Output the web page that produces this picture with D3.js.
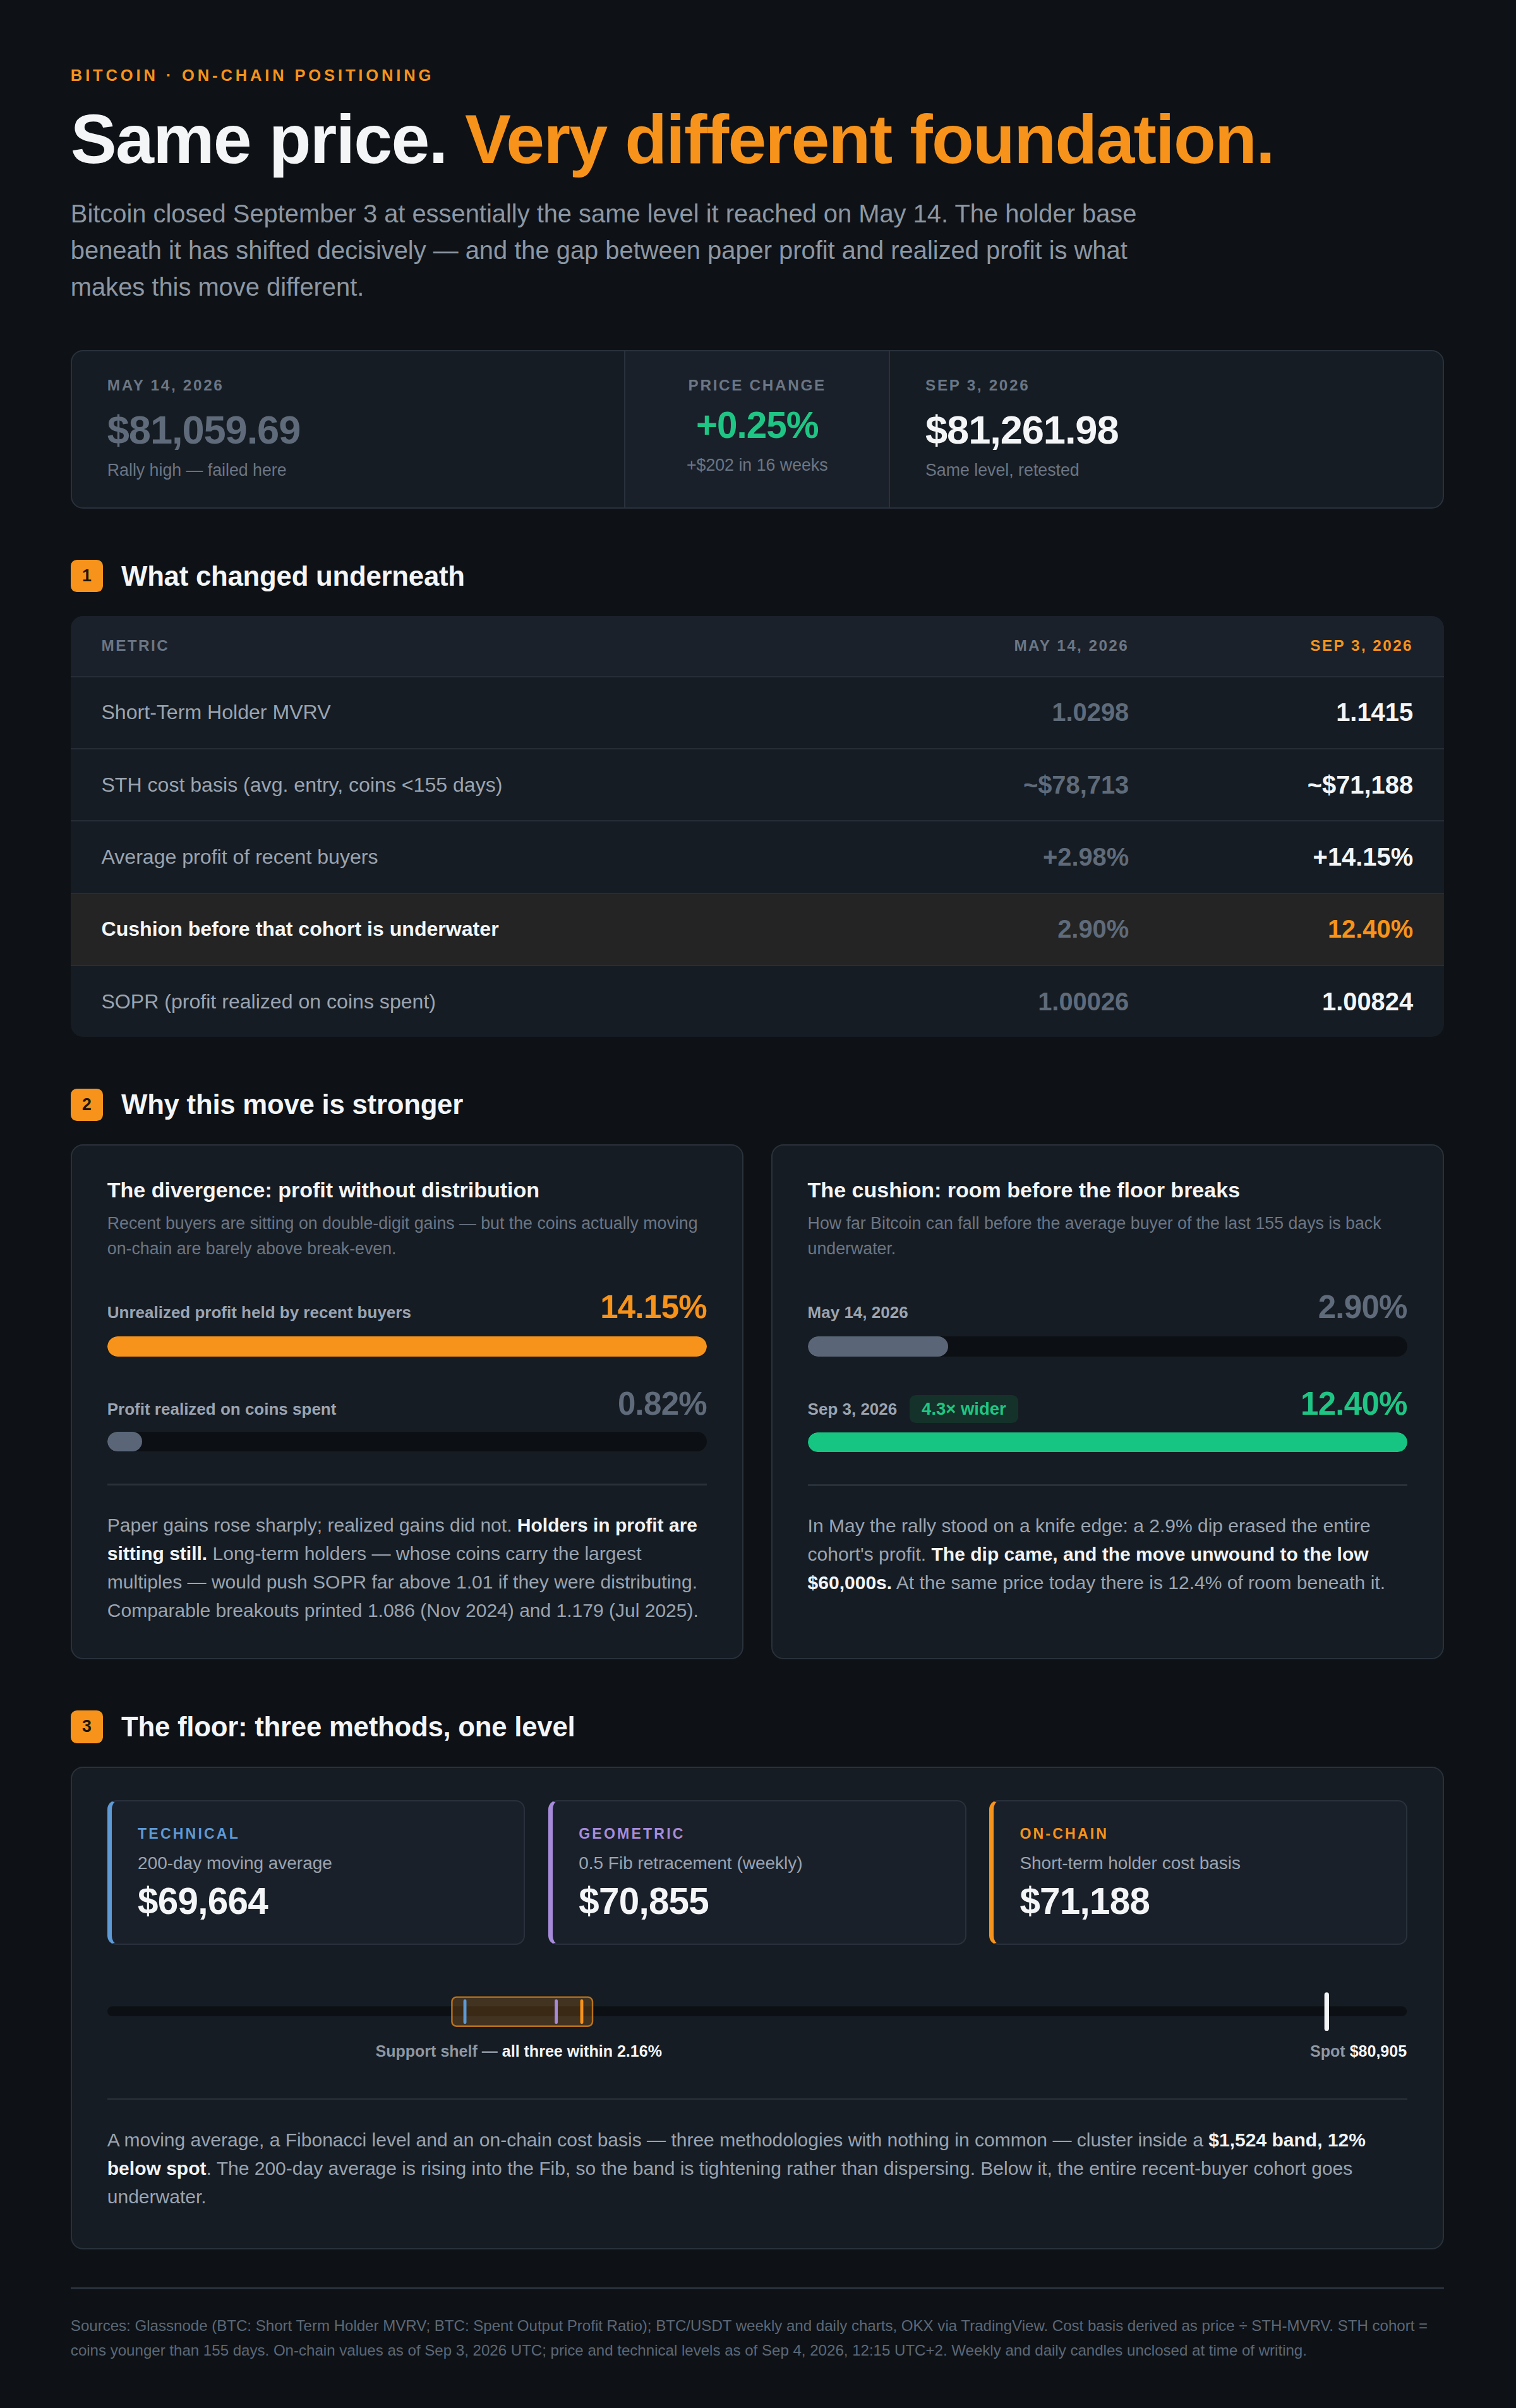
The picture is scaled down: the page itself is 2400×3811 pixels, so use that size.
<!DOCTYPE html>
<html>
<head>
<meta charset="utf-8">
<script src="https://cdn.jsdelivr.net/npm/d3@7"></script>
<style>
html, body { margin: 0; background: #0e1217; }
body {
    zoom: 2.43161;
    width: 987px;
    font-family: "Liberation Sans", Arial, Helvetica, sans-serif;
    color: #f0f3f6;
}
#page { padding: 42px 47px 30px 46px; }
b { color: #f0f3f6; }

.kicker { font-size: 10.5px; line-height: 12px; font-weight: 700; letter-spacing: 2px; color: #f7931a; margin-top: 1px; }
h1 { margin: 11px 0 0; font-size: 45px; line-height: 49.5px; font-weight: 700; letter-spacing: -0.7px; color: #f3f5f7; }
h1 span { color: #f7931a; }
.lede { margin-top: 11.5px; max-width: 722px; font-size: 16.4px; line-height: 24px; color: #8d97a3; }

.stats { display: grid; grid-template-columns: 1fr 173px 1fr; margin-top: 29px; height: 103px; box-sizing: border-box;
    background: #161c23; border: 1px solid #29313b; border-radius: 8px; overflow: hidden; }
.stat { padding: 16px 23px 0; }
.stat.mid { background: #1a2029; border-left: 1px solid #29313b; border-right: 1px solid #29313b; text-align: center; padding: 16px 0 0; }
.stat .lab { font-size: 10px; line-height: 12px; font-weight: 700; letter-spacing: 1.1px; color: #6b7685; }
.stat .val { margin-top: 8px; font-size: 26px; line-height: 30px; font-weight: 700; letter-spacing: -0.45px; }
.stat.mid .val { margin-top: 6px; font-size: 24px; line-height: 28px; letter-spacing: -0.4px; }
.stat .cap { margin-top: 4px; font-size: 11px; line-height: 14px; color: #6b7685; }
.stat.mid .cap { margin-top: 5px; }

.sec { display: flex; align-items: center; gap: 12px; margin-top: 33px; height: 22px; }
.badge { width: 21px; height: 21px; border-radius: 4px; background: #f7931a; color: #1b1408;
    font-size: 11px; font-weight: 700; display: flex; align-items: center; justify-content: center; }
.sec h2 { margin: 0; font-size: 18px; font-weight: 700; letter-spacing: -0.1px; color: #f3f5f7; }

.tbl { margin-top: 15px; background: #161c23; border-radius: 8px; overflow: hidden; }
.tr { display: grid; grid-template-columns: 1fr 185px 185px; padding: 0 20px; align-items: center;
    height: 47px; box-sizing: border-box; border-top: 1px solid #262d36; }
.tr.head { height: 39px; border-top: none; background: #1b212a; }
.tr.head div { font-size: 10px; font-weight: 700; letter-spacing: 1px; color: #6b7685; }
.tr .m { font-size: 13.2px; color: #9aa4b1; }
.tr .v { text-align: right; font-size: 16.4px; font-weight: 700; }
.tr .may { color: #5f6b7a; }
.tr .sep { color: #f3f5f7; }
.tr.hl { background: #242424; }
.tr.hl .m { font-weight: 700; color: #f3f5f7; }
.tr.hl .sep { color: #f7931a; }

.pair { display: grid; grid-template-columns: 1fr 1fr; gap: 18px; margin-top: 15px; }
.card { height: 335px; box-sizing: border-box; background: #161c23; border: 1px solid #29313b; border-radius: 8px; padding: 20px 23px 0; }
.card h3 { margin: 0; font-size: 14px; line-height: 18px; font-weight: 700; color: #f3f5f7; }
.card .desc { margin-top: 4px; font-size: 11px; line-height: 16.5px; color: #6b7685; }
.brow { display: flex; justify-content: space-between; align-items: baseline; margin-top: 18px; }
.brow + .track + .brow { margin-top: 19px; }
.brow .bl { display: flex; align-items: center; font-size: 10.7px; font-weight: 700; color: #9aa4b1; }
.brow .bv { font-size: 21px; line-height: 24px; font-weight: 700; letter-spacing: -0.3px; }
.pill { margin-left: 8px; padding: 0 8px; height: 18px; line-height: 18px; border-radius: 4px; background: #143229; color: #1fc584; font-size: 11.3px; }
.track { margin-top: 7px; height: 13px; border-radius: 7px; background: #0c1015; overflow: hidden; }
.brow + .track + .brow + .track { margin-top: 6px; }
.fill { height: 100%; border-radius: 7px; }
.divider { height: 1px; background: #29313b; margin: 21px 0 17px; }
.para { font-size: 12.35px; line-height: 18.5px; color: #9aa4b1; }

.floor { margin-top: 15px; height: 314px; box-sizing: border-box; background: #161c23; border: 1px solid #29313b; border-radius: 8px; padding: 21px 23px 0; }
.methods { display: grid; grid-template-columns: repeat(3, 1fr); gap: 15px; }
.method { height: 94px; box-sizing: border-box; background: #1a2029; border: 1px solid #29313b; border-left-width: 3px; border-radius: 6px; padding: 15px 17px 0; }
.method .ml { font-size: 9.5px; line-height: 12px; font-weight: 700; letter-spacing: 1.3px; }
.method .md { margin-top: 6px; font-size: 11.5px; line-height: 15px; color: #9aa4b1; }
.method .mv { margin-top: 3px; font-size: 24px; line-height: 28px; font-weight: 700; letter-spacing: -0.3px; color: #f3f5f7; }
#range { margin-top: 21px; height: 60px; }
#range svg { display: block; }

.foot { margin-top: 25px; height: 1px; background: #29313b; }
.sources { margin-top: 16px; font-size: 9.9px; line-height: 16px; color: #5d6876; }
</style>
</head>
<body>
<div id="page"></div>
<script>
// Header texts
const kicker = "BITCOIN · ON-CHAIN POSITIONING";
const headline = ["Same price.", "Very different foundation."];
const lede = "Bitcoin closed September 3 at essentially the same level it reached on May 14. The holder base beneath it has shifted decisively — and the gap between paper profit and realized profit is what makes this move different.";

// Price snapshot
const dates = ["May 14, 2026", "Sep 3, 2026"];
const prices = [81059.69, 81261.98];
const priceNotes = ["Rally high — failed here", "Same level, retested"];
const weeksBetween = 16;

// Section 1 table
const metrics = [
    "Short-Term Holder MVRV",
    "STH cost basis (avg. entry, coins <155 days)",
    "Average profit of recent buyers",
    "Cushion before that cohort is underwater",
    "SOPR (profit realized on coins spent)"
];
const mayValues = ["1.0298", "~$78,713", "+2.98%", "2.90%", "1.00026"];
const sepValues = ["1.1415", "~$71,188", "+14.15%", "12.40%", "1.00824"];
const highlightRow = 3;

// Section 2 bars
const profitLabels = ["Unrealized profit held by recent buyers", "Profit realized on coins spent"];
const profitValues = [14.15, 0.82];
const cushionLabels = ["May 14, 2026", "Sep 3, 2026"];
const cushionValues = [2.90, 12.40];

// Section 3 levels
const floorMethods = ["TECHNICAL", "GEOMETRIC", "ON-CHAIN"];
const floorDescs = ["200-day moving average", "0.5 Fib retracement (weekly)", "Short-term holder cost basis"];
const floorLevels = [69664, 70855, 71188];
const spotPrice = 80905;
const priceDomain = [65000, 81950];

const orange = "#f7931a", green = "#17c583", muted = "#5a6678";
const methodColors = ["#5d9ad6", "#a78bdb", orange];

const fmtPrice = d3.format("$,.2f");
const fmtLevel = d3.format("$,.0f");
const page = d3.select("#page");

// Title block
page.append("div").attr("class", "kicker").text(kicker);
const h1 = page.append("h1");
h1.append("tspan").text(headline[0] + " ");
h1.append("span").text(headline[1]);
page.append("div").attr("class", "lede").text(lede);

// Price comparison card
const change = (prices[1] - prices[0]) / prices[0];
const stats = page.append("div").attr("class", "stats");
const addStat = (cls, lab, val, cap, color) => {
    const s = stats.append("div").attr("class", "stat " + cls);
    s.append("div").attr("class", "lab").text(lab);
    s.append("div").attr("class", "val").style("color", color).text(val);
    s.append("div").attr("class", "cap").text(cap);
};
addStat("", dates[0].toUpperCase(), fmtPrice(prices[0]), priceNotes[0], "#5f6b7a");
addStat("mid", "PRICE CHANGE", d3.format("+.2%")(change),
    `+$${Math.round(prices[1] - prices[0])} in ${weeksBetween} weeks`, "#1fc584");
addStat("", dates[1].toUpperCase(), fmtPrice(prices[1]), priceNotes[1], "#f3f5f7");

function section(n, title) {
    const s = page.append("div").attr("class", "sec");
    s.append("div").attr("class", "badge").text(n);
    s.append("h2").text(title);
}

// Section 1 - table
section(1, "What changed underneath");
const tbl = page.append("div").attr("class", "tbl");
const head = tbl.append("div").attr("class", "tr head");
head.append("div").text("METRIC");
head.append("div").style("text-align", "right").text(dates[0].toUpperCase());
head.append("div").style("text-align", "right").style("color", orange).text(dates[1].toUpperCase());

const rows = tbl.selectAll("div.row").data(metrics).join("div")
    .attr("class", (d, i) => "row tr" + (i === highlightRow ? " hl" : ""));
rows.append("div").attr("class", "m").text(d => d);
rows.append("div").attr("class", "v may").text((d, i) => mayValues[i]);
rows.append("div").attr("class", "v sep").text((d, i) => sepValues[i]);

// Section 2 - two bar cards
section(2, "Why this move is stronger");
const pair = page.append("div").attr("class", "pair");

function barCard(title, desc, labels, values, colors, valueColors, pill, text) {
    const card = pair.append("div").attr("class", "card");
    card.append("h3").text(title);
    card.append("div").attr("class", "desc").text(desc);
    const x = d3.scaleLinear().domain([0, d3.max(values)]).range([0, 100]);
    values.forEach((v, i) => {
        const row = card.append("div").attr("class", "brow");
        const bl = row.append("div").attr("class", "bl");
        bl.append("span").text(labels[i]);
        if (pill && i === values.length - 1) bl.append("span").attr("class", "pill").text(pill);
        row.append("div").attr("class", "bv").style("color", valueColors[i]).text(v.toFixed(2) + "%");
        card.append("div").attr("class", "track")
            .append("div").attr("class", "fill")
            .style("width", x(v) + "%")
            .style("background", colors[i]);
    });
    card.append("div").attr("class", "divider");
    card.append("div").attr("class", "para").html(text);
}

// text runs are split where the lines wrap, so their boxes don't overlap
barCard("The divergence: profit without distribution",
    "Recent buyers are sitting on double-digit gains — but the coins actually moving on-chain are barely above break-even.",
    profitLabels, profitValues, [orange, muted], [orange, "#5f6b7a"], null,
    "<span>Paper gains rose sharply; realized gains did not.</span> <b>Holders in profit are</b> <b>sitting still.</b> <span>Long-term holders — whose coins carry the largest</span> <span>multiples — would push SOPR far above 1.01 if they were distributing. Comparable breakouts printed 1.086 (Nov 2024) and 1.179 (Jul 2025).</span>");

barCard("The cushion: room before the floor breaks",
    "How far Bitcoin can fall before the average buyer of the last 155 days is back underwater.",
    cushionLabels, cushionValues, [muted, green], ["#5f6b7a", "#1fc584"],
    (cushionValues[1] / cushionValues[0]).toFixed(1) + "× wider",
    "<span>In May the rally stood on a knife edge: a 2.9% dip erased the entire</span> <span>cohort's profit.</span> <b>The dip came, and the move unwound to the low</b> <b>$60,000s.</b> <span>At the same price today there is 12.4% of room beneath it.</span>");

// Section 3 - the floor
section(3, "The floor: three methods, one level");
const floor = page.append("div").attr("class", "floor");
const methods = floor.append("div").attr("class", "methods")
    .selectAll("div").data(floorLevels).join("div")
    .attr("class", "method")
    .style("border-left-color", (d, i) => methodColors[i]);
methods.append("div").attr("class", "ml").style("color", (d, i) => methodColors[i]).text((d, i) => floorMethods[i]);
methods.append("div").attr("class", "md").text((d, i) => floorDescs[i]);
methods.append("div").attr("class", "mv").text(d => fmtLevel(d));

// Price line with the support shelf
const rw = 846, rh = 60;
const x = d3.scaleLinear().domain(priceDomain).range([0, rw]);
const svg = floor.append("div").attr("id", "range").append("svg")
    .attr("width", rw).attr("height", rh);

svg.append("rect")
    .attr("x", 0).attr("y", 19).attr("width", rw).attr("height", 6.5).attr("rx", 3.25)
    .attr("fill", "#0c1015");

const lo = d3.min(floorLevels), hi = d3.max(floorLevels);
svg.append("rect")
    .attr("x", x(lo) - 8.5).attr("y", 13)
    .attr("width", x(hi) - x(lo) + 15.5).attr("height", 19).attr("rx", 3)
    .attr("fill", "rgba(247,147,26,0.2)")
    .attr("stroke", "rgba(247,147,26,0.7)")
    .attr("stroke-width", 1);

svg.selectAll("line.lvl").data(floorLevels).join("line")
    .attr("class", "lvl")
    .attr("x1", d => x(d)).attr("x2", d => x(d))
    .attr("y1", 15.5).attr("y2", 29.5)
    .attr("stroke", (d, i) => methodColors[i])
    .attr("stroke-width", 2)
    .attr("stroke-linecap", "round");

svg.append("line")
    .attr("x1", x(spotPrice)).attr("x2", x(spotPrice))
    .attr("y1", 11.5).attr("y2", 33.5)
    .attr("stroke", "#f3f5f7").attr("stroke-width", 3).attr("stroke-linecap", "round");

const shelf = svg.append("text")
    .attr("x", (x(lo) + x(hi)) / 2 - 3).attr("y", 52)
    .attr("text-anchor", "middle")
    .style("font-size", "10.3px").style("font-weight", 700);
shelf.append("tspan").attr("fill", "#8d97a3").text("Support shelf — ");
shelf.append("tspan").attr("fill", "#f3f5f7").text(`all three within ${d3.format(".2%")((hi - lo) / 70555)}`);

const spot = svg.append("text")
    .attr("x", rw).attr("y", 52)
    .attr("text-anchor", "end")
    .style("font-size", "10.3px").style("font-weight", 700);
spot.append("tspan").attr("fill", "#8d97a3").text("Spot ");
spot.append("tspan").attr("fill", "#f3f5f7").text(fmtLevel(spotPrice));

floor.append("div").attr("class", "divider").style("margin", "19px 0 17px");
floor.append("div").attr("class", "para")
    .html(`<span>A moving average, a Fibonacci level and an on-chain cost basis — three methodologies with nothing in common — cluster inside a</span> <b>${fmtLevel(hi - lo)} band, 12%</b> <b>below spot</b><span>. The 200-day average is rising into the Fib, so the band is tightening rather than dispersing. Below it, the entire recent-buyer cohort goes</span> <span>underwater.</span>`);

// Footer
page.append("div").attr("class", "foot");
page.append("div").attr("class", "sources")
    .text("Sources: Glassnode (BTC: Short Term Holder MVRV; BTC: Spent Output Profit Ratio); BTC/USDT weekly and daily charts, OKX via TradingView. Cost basis derived as price ÷ STH-MVRV. STH cohort = coins younger than 155 days. On-chain values as of Sep 3, 2026 UTC; price and technical levels as of Sep 4, 2026, 12:15 UTC+2. Weekly and daily candles unclosed at time of writing.");
</script>
</body>
</html>
